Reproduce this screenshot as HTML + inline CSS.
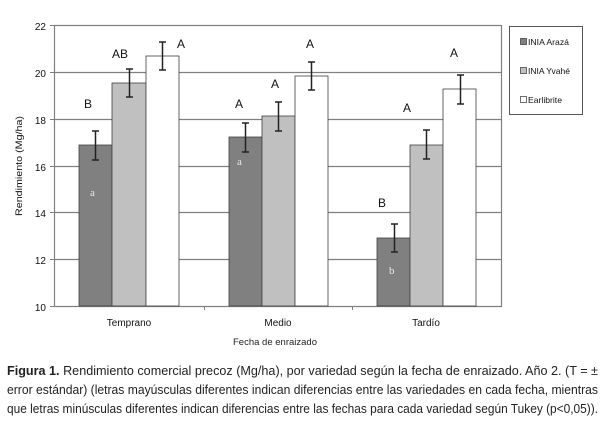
<!DOCTYPE html>
<html><head><meta charset="utf-8"><style>
html,body{margin:0;padding:0;background:#fff;}
svg{display:block;font-family:"Liberation Sans",sans-serif;}
</style></head><body>
<svg width="603" height="424" viewBox="0 0 603 424" xmlns="http://www.w3.org/2000/svg">
<rect width="603" height="424" fill="#fff"/>
<!-- gridlines -->
<g stroke="#808080" stroke-width="1.2">
<line x1="54" y1="25.5" x2="501" y2="25.5"/>
<line x1="54" y1="72.5" x2="501" y2="72.5"/>
<line x1="54" y1="119.5" x2="501" y2="119.5"/>
<line x1="54" y1="166.5" x2="501" y2="166.5"/>
<line x1="54" y1="212.5" x2="501" y2="212.5"/>
<line x1="54" y1="259.5" x2="501" y2="259.5"/>
</g>
<line x1="501.5" y1="25" x2="501.5" y2="307" stroke="#808080" stroke-width="1.2"/>
<line x1="54.5" y1="25" x2="54.5" y2="307" stroke="#808080" stroke-width="1.2"/>
<line x1="54" y1="306.5" x2="502" y2="306.5" stroke="#808080" stroke-width="1.2"/>
<g stroke="#808080"><line x1="50" y1="25.5" x2="54" y2="25.5"/><line x1="50" y1="72.5" x2="54" y2="72.5"/><line x1="50" y1="119.5" x2="54" y2="119.5"/><line x1="50" y1="166.5" x2="54" y2="166.5"/><line x1="50" y1="212.5" x2="54" y2="212.5"/><line x1="50" y1="259.5" x2="54" y2="259.5"/><line x1="50" y1="306.5" x2="54" y2="306.5"/>
<line x1="204.5" y1="306" x2="204.5" y2="310"/><line x1="352.5" y1="306" x2="352.5" y2="310"/></g>
<!-- bars -->
<g stroke="#404040" stroke-width="0.8">
<rect x="79" y="145" width="33" height="161" fill="#808080"/>
<rect x="112" y="83" width="34" height="223" fill="#c0c0c0"/>
<rect x="146" y="56" width="33" height="250" fill="#fff"/>
<rect x="229" y="137" width="33" height="169" fill="#808080"/>
<rect x="262" y="116" width="33" height="190" fill="#c0c0c0"/>
<rect x="295" y="76" width="33" height="230" fill="#fff"/>
<rect x="377" y="238" width="33" height="68" fill="#808080"/>
<rect x="410" y="145" width="33" height="161" fill="#c0c0c0"/>
<rect x="443" y="89" width="33" height="217" fill="#fff"/>
</g>
<!-- error bars -->
<g stroke="#222" stroke-width="1.5">
<path d="M95.5 131V160M92 131h7M92 160h7"/>
<path d="M129.5 69V97M126 69h7M126 97h7"/>
<path d="M162.5 42V70M159 42h7M159 70h7"/>
<path d="M245.5 123V152M242 123h7M242 152h7"/>
<path d="M278.5 102V131M275 102h7M275 131h7"/>
<path d="M311.5 62V90M308 62h7M308 90h7"/>
<path d="M394.5 224V252M391 224h7M391 252h7"/>
<path d="M426.5 130V159M423 130h7M423 159h7"/>
<path d="M460.5 75V104M457 75h7M457 104h7"/>
</g>
<!-- letters -->
<g font-size="12" fill="#111">
<text x="84" y="108">B</text>
<text x="112" y="58">AB</text>
<text x="177" y="48">A</text>
<text x="235" y="108">A</text>
<text x="271" y="88">A</text>
<text x="306" y="48">A</text>
<text x="378" y="207">B</text>
<text x="403" y="112">A</text>
<text x="450" y="57">A</text>
</g>
<g font-size="11" fill="#e8e8e8" font-family="Liberation Serif,serif">
<text x="90" y="196">a</text>
<text x="237" y="165">a</text>
<text x="389" y="274">b</text>
</g>
<!-- y labels -->
<g font-size="10" fill="#111" text-anchor="end">
<text x="46" y="30">22</text><text x="46" y="77">20</text><text x="46" y="124">18</text><text x="46" y="171">16</text><text x="46" y="217">14</text><text x="46" y="264">12</text><text x="46" y="311">10</text>
</g>
<text transform="translate(22,166) rotate(-90)" font-size="9.5" text-anchor="middle" fill="#111" textLength="100" lengthAdjust="spacingAndGlyphs">Rendimiento (Mg/ha)</text>
<g font-size="10" fill="#111" text-anchor="middle">
<text x="129" y="326">Temprano</text>
<text x="278" y="326">Medio</text>
<text x="426" y="326">Tardío</text>
</g>
<text x="275" y="345" font-size="9.5" text-anchor="middle" fill="#222">Fecha de enraizado</text>
<!-- legend -->
<rect x="509.5" y="26.5" width="73" height="88" fill="#fff" stroke="#555"/>
<g stroke="#333" stroke-width="0.7">
<rect x="520.5" y="38.5" width="6" height="6" fill="#808080"/>
<rect x="520.5" y="67.5" width="6" height="6" fill="#c0c0c0"/>
<rect x="520.5" y="96.5" width="6" height="6" fill="#fff"/>
</g>
<g font-size="8.5" fill="#111">
<text x="528" y="45" textLength="41" lengthAdjust="spacingAndGlyphs">INIA Arazá</text>
<text x="528" y="74" textLength="42" lengthAdjust="spacingAndGlyphs">INIA Yvahé</text>
<text x="528" y="103" textLength="34" lengthAdjust="spacingAndGlyphs">Earlibrite</text>
</g>
<!-- caption -->
<g font-size="13" fill="#222">
<text x="7" y="375" textLength="591" lengthAdjust="spacingAndGlyphs"><tspan font-weight="bold">Figura  1.</tspan> Rendimiento comercial precoz (Mg/ha), por variedad según la fecha de enraizado.  Año 2. (T = ±</text>
<text x="7" y="394" textLength="591" lengthAdjust="spacingAndGlyphs">error estándar) (letras mayúsculas diferentes indican diferencias entre las variedades en cada fecha, mientras</text>
<text x="7" y="413" textLength="591" lengthAdjust="spacingAndGlyphs">que letras minúsculas diferentes indican diferencias entre las fechas para cada variedad según Tukey (p&lt;0,05)).</text>
</g>
</svg>
</body></html>
